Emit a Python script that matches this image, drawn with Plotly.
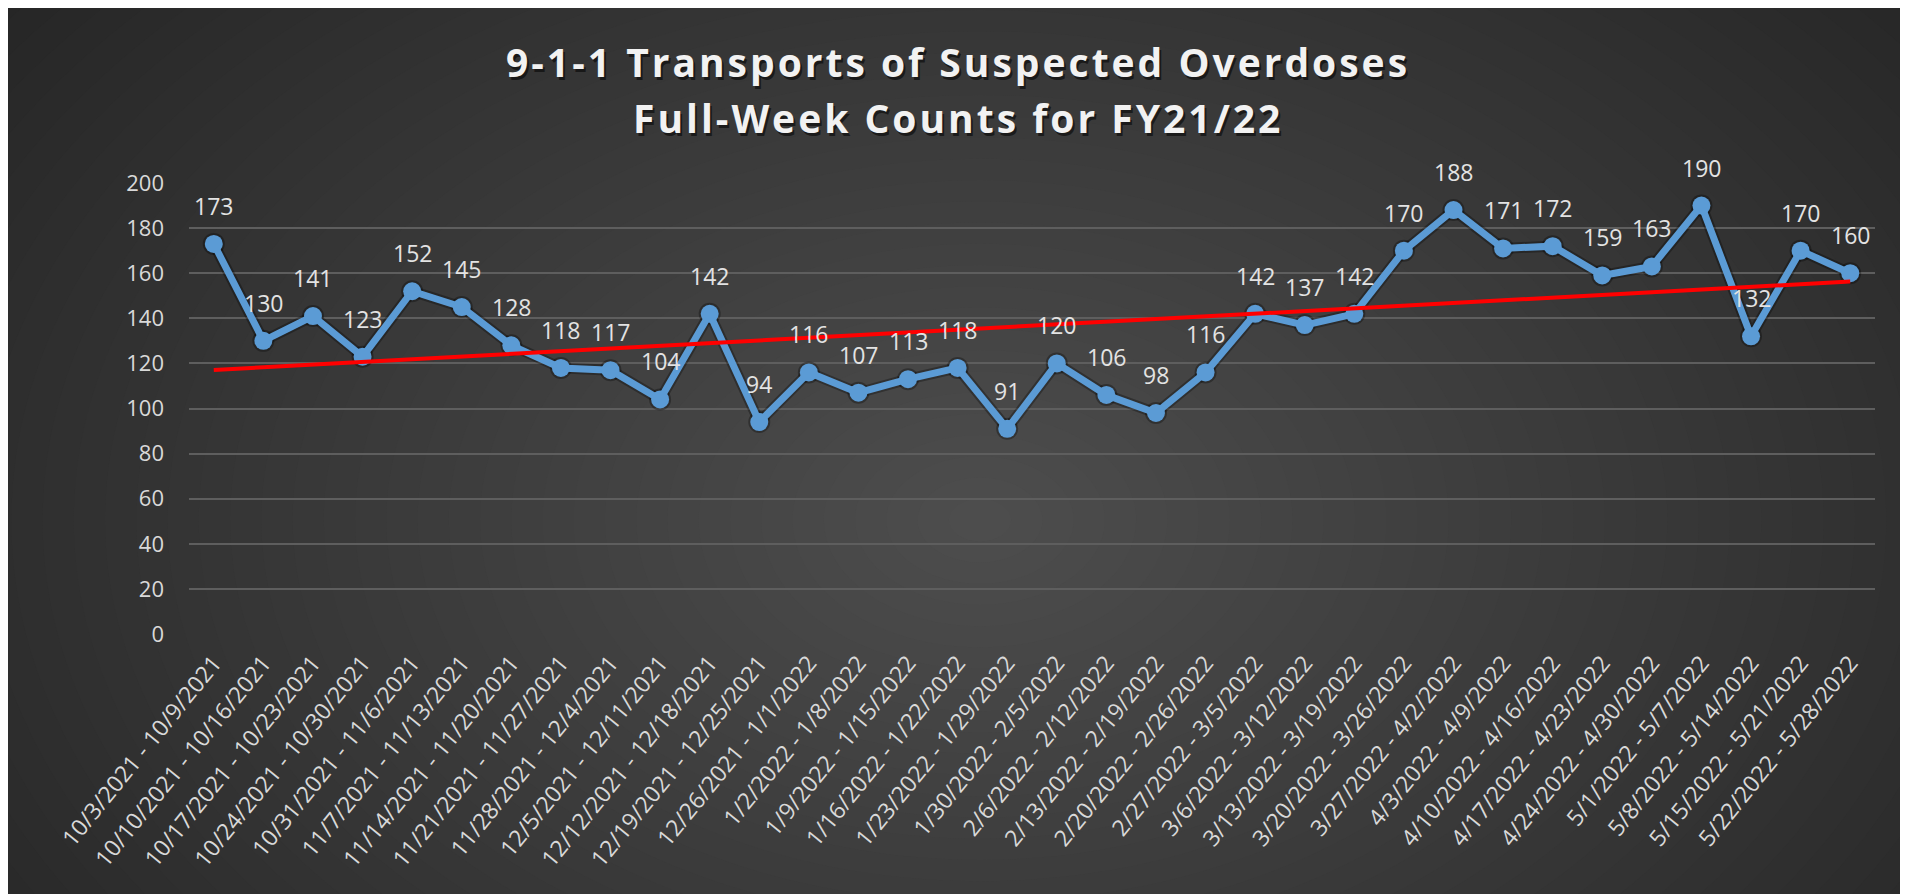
import numpy as np
import plotly.graph_objects as go

weeks = [
    "10/3/2021 - 10/9/2021", "10/10/2021 - 10/16/2021", "10/17/2021 - 10/23/2021",
    "10/24/2021 - 10/30/2021", "10/31/2021 - 11/6/2021", "11/7/2021 - 11/13/2021",
    "11/14/2021 - 11/20/2021", "11/21/2021 - 11/27/2021", "11/28/2021 - 12/4/2021",
    "12/5/2021 - 12/11/2021", "12/12/2021 - 12/18/2021", "12/19/2021 - 12/25/2021",
    "12/26/2021 - 1/1/2022", "1/2/2022 - 1/8/2022", "1/9/2022 - 1/15/2022",
    "1/16/2022 - 1/22/2022", "1/23/2022 - 1/29/2022", "1/30/2022 - 2/5/2022",
    "2/6/2022 - 2/12/2022", "2/13/2022 - 2/19/2022", "2/20/2022 - 2/26/2022",
    "2/27/2022 - 3/5/2022", "3/6/2022 - 3/12/2022", "3/13/2022 - 3/19/2022",
    "3/20/2022 - 3/26/2022", "3/27/2022 - 4/2/2022", "4/3/2022 - 4/9/2022",
    "4/10/2022 - 4/16/2022", "4/17/2022 - 4/23/2022", "4/24/2022 - 4/30/2022",
    "5/1/2022 - 5/7/2022", "5/8/2022 - 5/14/2022", "5/15/2022 - 5/21/2022",
    "5/22/2022 - 5/28/2022",
]
counts = [173, 130, 141, 123, 152, 145, 128, 118, 117, 104, 142, 94, 116, 107,
          113, 118, 91, 120, 106, 98, 116, 142, 137, 142, 170, 188, 171, 172,
          159, 163, 190, 132, 170, 160]
y_ticks = list(range(0, 201, 20))
title_line1 = "9-1-1 Transports of Suspected Overdoses"
title_line2 = "Full-Week Counts for FY21/22"

# figure sits at the page's 8px body offset, filling the rest of the window
W, H = 1900, 886
PL, PR, PT, PB = 181, 1867, 175, 626


def px_x(X):
    return (X - PL) / (PR - PL)


def px_y(Y):
    return (PB - Y) / (PB - PT)


# linear trendline (Excel-style least squares)
idx = np.arange(len(counts))
slope, intercept = np.polyfit(idx, counts, 1)
trend_ends = [intercept, slope * idx[-1] + intercept]

fig = go.Figure()
# soft shadow under series
fig.add_trace(go.Scatter(
    x=weeks, y=counts, mode="lines+markers",
    line=dict(color="rgba(0,0,0,0.30)", width=11),
    marker=dict(size=22, color="rgba(0,0,0,0.30)"),
    hoverinfo="skip", showlegend=False))
fig.add_trace(go.Scatter(
    x=weeks, y=counts, mode="lines+markers",
    line=dict(color="#5b9bd5", width=7),
    marker=dict(size=18, color="#5b9bd5"),
    showlegend=False))
fig.add_trace(go.Scatter(
    x=[weeks[0], weeks[-1]], y=trend_ends, mode="lines",
    line=dict(color="#ff0000", width=4),
    showlegend=False))

annotations = []
for w, c in zip(weeks, counts):
    annotations.append(dict(
        x=w, y=c, xref="x", yref="y", text=str(c), showarrow=False,
        yshift=38, yanchor="middle",
        font=dict(family="Open Sans", size=23, color="#e3e3e3")))

title_style = '<span style="letter-spacing:3px">{}</span>'
for txt, ycen in [(title_line1, 53), (title_line2, 109)]:
    for shadow in (True, False):
        annotations.append(dict(
            x=px_x(W / 2), y=px_y(ycen), xref="paper", yref="paper",
            text="<b>" + title_style.format(txt) + "</b>", showarrow=False,
            xanchor="center", yanchor="middle",
            xshift=2 if shadow else 0, yshift=-3 if shadow else 0,
            font=dict(family="Open Sans", size=39,
                      color="rgba(0,0,0,0.55)" if shadow else "#f2f2f2")))

# radial background gradient built from opaque concentric ellipses
shapes = [dict(type="rect", xref="paper", yref="paper", layer="below",
               x0=px_x(-5), x1=px_x(W + 5), y0=px_y(H + 5), y1=px_y(-5),
               fillcolor="#252525", line=dict(width=0))]
cx, cy, rx, ry = 972, 512, 1250, 850
edge, center = 0x25, 0x4d
n = center - edge
for k in range(n):
    f = 1 - k / n
    g = edge + k + 1
    shapes.append(dict(
        type="circle", xref="paper", yref="paper", layer="below",
        x0=px_x(cx - rx * f), x1=px_x(cx + rx * f),
        y0=px_y(cy + ry * f), y1=px_y(cy - ry * f),
        fillcolor="rgb({0},{0},{0})".format(g), line=dict(width=0)))

fig.update_layout(
    width=W, height=H,
    margin=dict(l=PL, r=W - PR, t=PT, b=H - PB, autoexpand=False),
    paper_bgcolor="#252525", plot_bgcolor="rgba(0,0,0,0)",
    font=dict(family="Open Sans", color="#d9d9d9"),
    shapes=shapes, annotations=annotations,
    xaxis=dict(type="category", range=[-0.5, len(weeks) - 0.5],
               tickmode="array", tickvals=weeks, ticktext=weeks,
               showgrid=False, zeroline=False, showline=False, ticks="",
               tickangle=-51, ticklabelstandoff=10,
               tickfont=dict(family="Open Sans", size=23, color="#d9d9d9")),
    yaxis=dict(range=[0, 200], tickmode="array", tickvals=y_ticks,
               showgrid=True, gridcolor="#5e5e5e", gridwidth=1.5,
               zeroline=False, showline=False, ticks="",
               ticklabelstandoff=24,
               tickfont=dict(family="Open Sans", size=22, color="#d9d9d9")),
)

fig.write_html("out.html")
